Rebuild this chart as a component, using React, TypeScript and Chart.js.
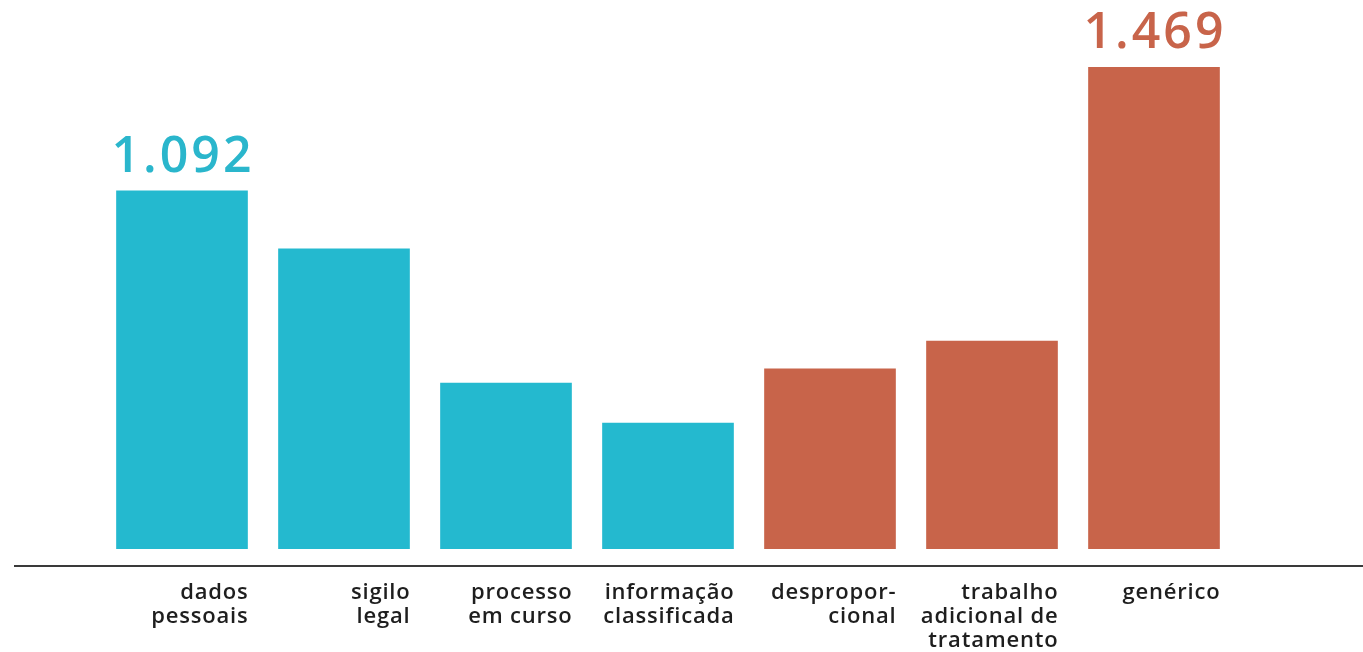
import React, { useEffect, useRef } from "react";
import { Chart, registerables } from "chart.js";

Chart.register(...registerables);

const categories: string[][] = [
  ["dados", "pessoais"],
  ["sigilo", "legal"],
  ["processo", "em curso"],
  ["informação", "classificada"],
  ["despropor-", "cional"],
  ["trabalho", "adicional de", "tratamento"],
  ["genérico"],
];
const values: number[] = [1092, 915, 506, 384, 549, 634, 1469];
const barColors: string[] = ["#24B9CF", "#24B9CF", "#24B9CF", "#24B9CF", "#C8644A", "#C8644A", "#C8644A"];
const labelledBars: number[] = [0, 6];
const valueLabels: string[] = ["1.092", "", "", "", "", "", "1.469"];
const labelColors: string[] = ["#2AB6CC", "", "", "", "", "", "#C8644A"];

const FONT = "'Open Sans', 'Noto Sans', sans-serif";

const overlayPlugin = {
  id: "overlay",
  afterDatasetsDraw(chart: any) {
    const ctx = chart.ctx;
    const area = chart.chartArea;
    const meta = chart.getDatasetMeta(0);
    ctx.save();
    // axis line
    ctx.strokeStyle = "#3a3a3a";
    ctx.lineWidth = 2;
    ctx.beginPath();
    ctx.moveTo(14, area.bottom + 17);
    ctx.lineTo(chart.width, area.bottom + 17);
    ctx.stroke();
    // category labels, right-aligned to bar edge
    ctx.fillStyle = "#1e1e1e";
    ctx.font = `600 22px ${FONT}`;
    (ctx as any).letterSpacing = "0.8px";
    ctx.textAlign = "right";
    ctx.textBaseline = "alphabetic";
    meta.data.forEach((bar: any, i: number) => {
      const right = bar.x + bar.width / 2 + 1;
      categories[i].forEach((line, j) => {
        ctx.fillText(line, right, area.bottom + 50 + j * 24);
      });
    });
    // value labels
    ctx.font = `600 50px ${FONT}`;
    (ctx as any).letterSpacing = "3px";
    ctx.textAlign = "center";
    labelledBars.forEach((i) => {
      const bar: any = meta.data[i];
      ctx.fillStyle = labelColors[i];
      ctx.fillText(valueLabels[i], bar.x + 1, bar.y - 19);
    });
    ctx.restore();
  },
};

export default function App() {
  const ref = useRef<HTMLCanvasElement>(null);
  useEffect(() => {
    if (!ref.current) return;
    const chart = new Chart(ref.current, {
      type: "bar",
      data: {
        labels: categories.map((c) => c.join(" ")),
        datasets: [
          {
            data: values,
            backgroundColor: barColors,
            barThickness: 131,
            borderWidth: 0,
          },
        ],
      },
      options: {
        animation: false,
        responsive: false,
        maintainAspectRatio: false,
        layout: { padding: { left: 101, right: 128, top: 0, bottom: 103 } },
        plugins: { legend: { display: false }, tooltip: { enabled: false } },
        scales: {
          x: { display: false, grid: { display: false } },
          y: { display: false, min: 0, max: 1674 },
        },
      },
      plugins: [overlayPlugin],
    });
    return () => chart.destroy();
  }, []);
  return (
    <div style={{ position: "fixed", left: 0, top: 0, width: 1363, height: 652, background: "#fff" }}>
      <canvas ref={ref} width={1363} height={652} style={{ width: 1363, height: 652 }} />
    </div>
  );
}
